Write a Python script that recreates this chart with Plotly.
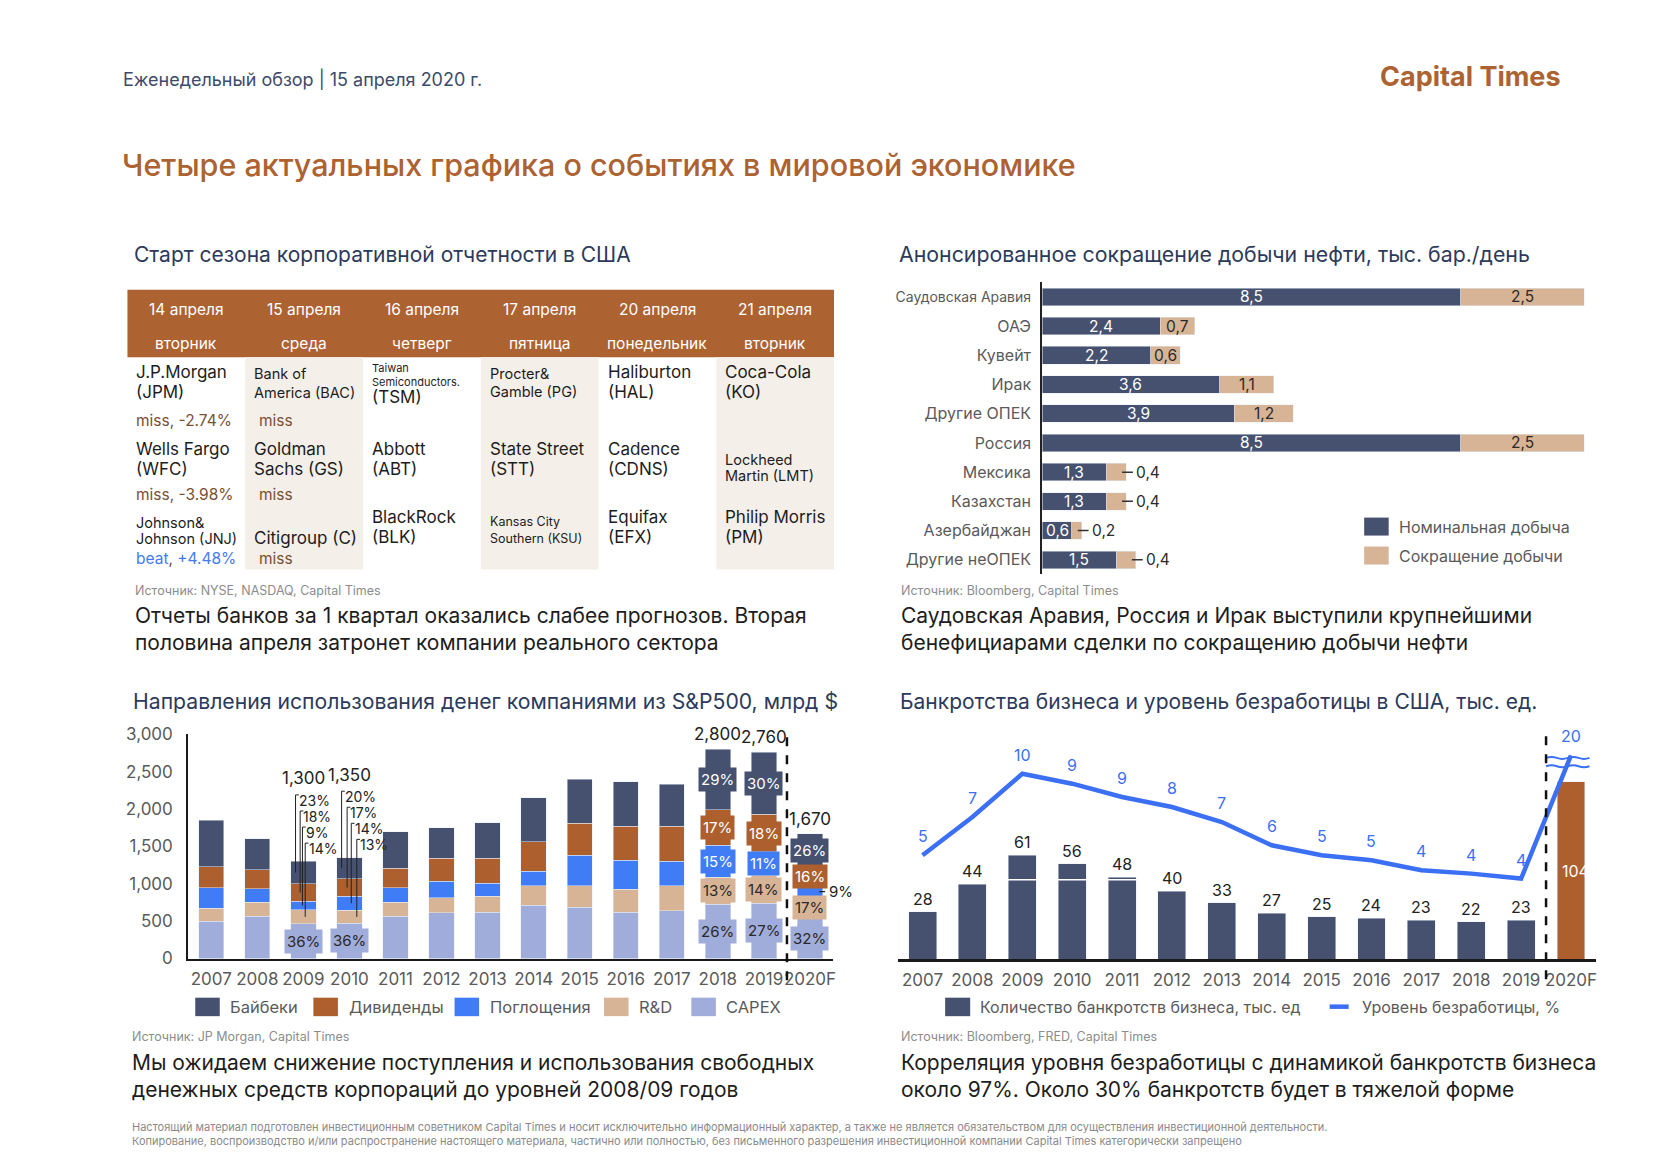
import plotly.graph_objects as go

W, H = 1680, 1162
FONT = "Inter"

NAVY = "#45516f"
BROWN = "#ad5f2d"
BLUE = "#3f7cf6"
TAN = "#d8b496"
PERI = "#a0acd9"
BEIGE = "#f4efe9"
HEAD = "#ad6232"
LINEBLUE = "#3b6ff4"
TITLE_NAVY = "#2c3a5c"
GREY = "#5a5a5a"
SRC = "#8c8c8c"
INK = "#1d1d1d"

# ---------------- DATA ----------------
# Table: reporting calendar
table_dates = ["14 апреля", "15 апреля", "16 апреля", "17 апреля", "20 апреля", "21 апреля"]
table_days = ["вторник", "среда", "четверг", "пятница", "понедельник", "вторник"]
table_cells = [
    [["J.P.Morgan", "(JPM)"], ["Wells Fargo", "(WFC)"], ["Johnson&", "Johnson (JNJ)"]],
    [["Bank of", "America (BAC)"], ["Goldman", "Sachs (GS)"], ["Citigroup (C)"]],
    [["Taiwan", "Semiconductors.", "(TSM)"], ["Abbott", "(ABT)"], ["BlackRock", "(BLK)"]],
    [["Procter&", "Gamble (PG)"], ["State Street", "(STT)"], ["Kansas City", "Southern (KSU)"]],
    [["Haliburton", "(HAL)"], ["Cadence", "(CDNS)"], ["Equifax", "(EFX)"]],
    [["Coca-Cola", "(KO)"], ["Lockheed", "Martin (LMT)"], ["Philip Morris", "(PM)"]],
]
table_results = [
    ["miss, -2.74%", "miss, -3.98%", "beat, +4.48%"],
    ["miss", "miss", "miss"],
    [], [], [], [],
]

# Oil output cuts, thousand barrels/day
oil_countries = ["Саудовская Аравия", "ОАЭ", "Кувейт", "Ирак", "Другие ОПЕК",
                 "Россия", "Мексика", "Казахстан", "Азербайджан", "Другие неОПЕК"]
oil_nominal = [8.5, 2.4, 2.2, 3.6, 3.9, 8.5, 1.3, 1.3, 0.6, 1.5]
oil_cut = [2.5, 0.7, 0.6, 1.1, 1.2, 2.5, 0.4, 0.4, 0.2, 0.4]

# S&P500 uses of cash, bn $
sp_years = ["2007", "2008", "2009", "2010", "2011", "2012", "2013",
            "2014", "2015", "2016", "2017", "2018", "2019", "2020F"]
sp_capex = [500, 565, 468, 470, 565, 610, 620, 710, 685, 620, 640, 725, 740, 535]
sp_rd = [175, 190, 182, 175, 185, 205, 215, 265, 290, 310, 335, 365, 375, 285]
sp_ma = [270, 180, 117, 190, 195, 220, 170, 195, 405, 385, 325, 425, 315, 150]
sp_div = [285, 255, 234, 230, 265, 305, 335, 395, 430, 455, 470, 475, 500, 265]
sp_buyback = [620, 410, 299, 285, 490, 410, 480, 585, 590, 595, 565, 810, 830, 435]
sp_labeled_years = ["2009", "2010", "2018", "2019", "2020F"]
sp_pct_buyback = [23, 20, 29, 30, 26]
sp_pct_div = [18, 17, 17, 18, 16]
sp_pct_ma = [9, 14, 15, 11, 9]
sp_pct_rd = [14, 13, 13, 14, 17]
sp_pct_capex = [36, 36, 26, 27, 32]

# Business bankruptcies (thousand) and unemployment (%)
bk_years = ["2007", "2008", "2009", "2010", "2011", "2012", "2013",
            "2014", "2015", "2016", "2017", "2018", "2019", "2020F"]
bk_bankruptcies = [28, 44, 61, 56, 48, 40, 33, 27, 25, 24, 23, 22, 23, 104]
bk_unemployment = [5.0, 7.3, 9.9, 9.3, 8.5, 7.9, 7.0, 5.6, 5.0, 4.7, 4.1, 3.9, 3.6, 20]

# ---------------- HELPERS ----------------
# page-pixel -> paper mapping (calibrated against the rendered page)
SX = 0.997
OY, SY = 9.0, 0.9836


def fx(x):
    return (x / SX) / W


def fy(y):
    return 1 - ((y - OY) / SY) / H


ann = []
shp = []


def txt(x, y, s, size, color, xanchor="left", weight=None, yanchor="middle"):
    f = dict(family=FONT, size=size, color=color)
    if weight:
        f["weight"] = weight
    ann.append(dict(x=fx(x), y=fy(y), xref="paper", yref="paper", text=s,
                    showarrow=False, xanchor=xanchor, yanchor=yanchor, font=f, align="left"))


def rect(x0, y0, x1, y1, color, layer="below"):
    shp.append(dict(type="rect", xref="paper", yref="paper", x0=fx(x0), x1=fx(x1),
                    y0=fy(y1), y1=fy(y0), fillcolor=color, line=dict(width=0), layer=layer))


def dom_x(a, b):
    return [fx(a), fx(b)]


def dom_y(top, bottom):
    return [fy(bottom), fy(top)]


def fmt_comma(v):
    return f"{v:.1f}".replace(".", ",")


fig = go.Figure()

# ---------------- HEADER ----------------
txt(121, 78, "Еженедельный обзор | 15 апреля 2020 г.", 18, "#3d4a6b")
txt(1561, 76, "Capital Times", 27, HEAD, xanchor="right", weight=700)
txt(120, 164, "Четыре актуальных графика о событиях в мировой экономике", 30.5, HEAD, weight=500)

# ---------------- PANEL 1: TABLE ----------------
txt(132, 254, "Старт сезона корпоративной отчетности в США", 21, TITLE_NAVY)
TL, TR = 127.3, 833.0
colw = (TR - TL) / 6
rect(TL, 289, TR, 356.5, HEAD)
for c in (1, 3, 5):
    rect(TL + c * colw, 356.5, TL + (c + 1) * colw, 569, BEIGE)
for i, (d, wd) in enumerate(zip(table_dates, table_days)):
    cx = TL + (i + 0.5) * colw
    txt(cx, 308.5, d, 15.5, "white", xanchor="center")
    txt(cx, 343, wd, 15.5, "white", xanchor="center")

cell_sizes = [
    [[17, 17], [17, 17], [14.5, 14.5]],
    [[14.5, 14.5], [17, 17], [17]],
    [[11, 11, 17], [17, 17], [17, 17]],
    [[14.5, 14.5], [17, 17], [12.5, 12.5]],
    [[17, 17], [17, 17], [17, 17]],
    [[17, 17], [14.5, 14.5], [17, 17]],
]
cell_ys = [
    [[371.7, 391.7], [448.3, 468.3], [521.7, 538.3]],
    [[372.7, 391.7], [448.3, 468.3], [537.3]],
    [[367.3, 381.7, 396], [448.3, 468.3], [516, 536]],
    [[372.7, 390.7], [448.3, 468.3], [521, 538.3]],
    [[371.7, 391.7], [448.3, 468.3], [516, 536]],
    [[371.7, 391.7], [459.3, 475], [516, 536]],
]
result_ys = [420, 494, 558]
result_indent = [7, 12, 7, 7, 7, 7]
for c, col in enumerate(table_cells):
    left = TL + c * colw + 7
    for s, lines in enumerate(col):
        for k, line in enumerate(lines):
            txt(left, cell_ys[c][s][k], line, cell_sizes[c][s][k], INK)
    for s, res in enumerate(table_results[c]):
        if res.startswith("beat"):
            word, val = res.split(", ")
            s_txt = f"<span style='color:{BLUE}'>{word}</span>, <span style='color:{BLUE}'>{val}</span>"
            txt(TL + c * colw + result_indent[c], result_ys[s], s_txt, 15.5, "#6b4a35")
        else:
            txt(TL + c * colw + result_indent[c], result_ys[s], res, 15.5, "#7b4f33")

txt(133, 590, "Источник: NYSE, NASDAQ, Capital Times", 12.5, SRC)
txt(133, 615, "Отчеты банков за 1 квартал оказались слабее прогнозов. Вторая", 21, INK)
txt(133, 642, "половина апреля затронет компании реального сектора", 21, INK)

# ---------------- PANEL 2: OIL ----------------
txt(896, 253, "Анонсированное сокращение добычи нефти, тыс. бар./день", 21.3, TITLE_NAVY)
fig.add_trace(go.Bar(y=oil_countries, x=oil_nominal, orientation="h", marker_color=NAVY,
                     width=0.6, xaxis="x", yaxis="y", showlegend=False, hoverinfo="skip"))
fig.add_trace(go.Bar(y=oil_countries, x=oil_cut, orientation="h", marker_color=TAN,
                     width=0.6, xaxis="x", yaxis="y", showlegend=False, hoverinfo="skip"))
for i, (nom, cut) in enumerate(zip(oil_nominal, oil_cut)):
    ann.append(dict(x=nom / 2, y=i, xref="x", yref="y", text=fmt_comma(nom), showarrow=False,
                    font=dict(family=FONT, size=15.5, color="white")))
    end = nom + cut
    if cut >= 0.5:
        ann.append(dict(x=nom + cut / 2, y=i, xref="x", yref="y", text=fmt_comma(cut), showarrow=False,
                        font=dict(family=FONT, size=15.5, color="#2a2a2a")))
    else:
        shp.append(dict(type="line", xref="x", yref="y", x0=end - 0.08, x1=end + 0.14, y0=i, y1=i,
                        line=dict(color="#333333", width=1.5), layer="above"))
        ann.append(dict(x=end + 0.16, y=i, xref="x", yref="y", text=fmt_comma(cut), showarrow=False,
                        xanchor="left", font=dict(family=FONT, size=15.5, color="#2a2a2a")))
oil_ticktext = [f"<span style='font-size:14px'>{c}</span>" if i == 0 else c
                for i, c in enumerate(oil_countries)]
rect(1362.5, 517, 1387, 535, NAVY)
txt(1395, 526, "Номинальная добыча", 16, GREY)
rect(1362.5, 546, 1387, 564, TAN)
txt(1395, 555, "Сокращение добычи", 16, GREY)
txt(898, 590, "Источник: Bloomberg, Capital Times", 12.5, SRC)
txt(898, 615, "Саудовская Аравия, Россия и Ирак выступили крупнейшими", 21, INK)
txt(898, 642, "бенефициарами сделки по сокращению добычи нефти", 21, INK)

# ---------------- PANEL 3: S&P500 ----------------
txt(131, 701, "Направления использования денег компаниями из S&P500, млрд $", 21.2, TITLE_NAVY)
sp_series = [("CAPEX", sp_capex, PERI), ("R&D", sp_rd, TAN), ("Поглощения", sp_ma, BLUE),
             ("Дивиденды", sp_div, BROWN), ("Байбеки", sp_buyback, NAVY)]
for name, vals, col in sp_series:
    fig.add_trace(go.Bar(x=sp_years, y=vals, name=name, marker_color=col, width=0.55,
                         xaxis="x2", yaxis="y2", showlegend=False, hoverinfo="skip"))

pct_lists = [sp_pct_buyback, sp_pct_div, sp_pct_ma, sp_pct_rd, sp_pct_capex]
seg_colors = [NAVY, BROWN, BLUE, TAN, PERI]
seg_font = ["white", "white", "white", "#2a2a2a", "#2a2a2a"]
leader_dx = {"2009": [-0.17, -0.07, -0.02, 0.04], "2010": [-0.17, -0.05, 0.04, 0.16]}
leader_dy = [815, 600, 385, 170]
for j, yr in enumerate(sp_labeled_years):
    i = sp_years.index(yr)
    segs = [sp_capex[i], sp_rd[i], sp_ma[i], sp_div[i], sp_buyback[i]]
    bounds = [0]
    for v in segs:
        bounds.append(bounds[-1] + v)
    centers_bottom_up = [(bounds[k] + bounds[k + 1]) / 2 for k in range(5)]
    centers = centers_bottom_up[::-1]  # buyback, div, ma, rd, capex
    total = bounds[-1]
    pcts = [lst[j] for lst in pct_lists]
    total_txt = f"{total:,}"
    if yr in leader_dx:
        ann.append(dict(x=i, y=total + 1110, xref="x2", yref="y2", text=total_txt, showarrow=False,
                        font=dict(family=FONT, size=17, color="#222222")))
        for k in range(4):
            lx = i + leader_dx[yr][k]
            ly = total + leader_dy[k]
            shp.append(dict(type="line", xref="x2", yref="y2", x0=lx, x1=lx, y0=ly + 75, y1=centers[k],
                            line=dict(color="#222222", width=1), layer="above"))
            shp.append(dict(type="line", xref="x2", yref="y2", x0=lx, x1=lx + 0.07, y0=ly + 75, y1=ly + 75,
                            line=dict(color="#222222", width=1), layer="above"))
            ann.append(dict(x=lx + 0.05, y=ly, xref="x2", yref="y2", text=f"{pcts[k]}%", showarrow=False,
                            xanchor="left", borderpad=0,
                            font=dict(family=FONT, size=14, color="#222222")))
        ann.append(dict(x=i, y=centers[4], xref="x2", yref="y2", text=f"{pcts[4]}%", showarrow=False,
                        bgcolor=PERI, borderpad=2, font=dict(family=FONT, size=15, color="#2a2a2a")))
    else:
        ann.append(dict(x=i, y=total + 200, xref="x2", yref="y2", text=total_txt, showarrow=False,
                        font=dict(family=FONT, size=17, color="#222222")))
        for k in range(5):
            if segs[::-1][k] < 200:
                shp.append(dict(type="line", xref="x2", yref="y2", x0=i + 0.2, x1=i + 0.33,
                                y0=centers[k], y1=centers[k], line=dict(color="#222222", width=1.2),
                                layer="above"))
                ann.append(dict(x=i + 0.36, y=centers[k], xref="x2", yref="y2", text=f"{pcts[k]}%",
                                showarrow=False, xanchor="left",
                                font=dict(family=FONT, size=15, color="#222222")))
            else:
                ann.append(dict(x=i, y=centers[k], xref="x2", yref="y2", text=f"{pcts[k]}%",
                                showarrow=False, bgcolor=seg_colors[k], borderpad=2,
                                font=dict(family=FONT, size=15, color=seg_font[k])))

# dashed separator before forecast
shp.append(dict(type="line", xref="x2", yref="paper", x0=len(sp_years) - 1.5, x1=len(sp_years) - 1.5,
                y0=fy(980), y1=fy(735), line=dict(color="#111111", width=2.5, dash="dash"),
                layer="above"))

sp_legend = [("Байбеки", NAVY, 195, 228), ("Дивиденды", BROWN, 313, 346.5),
             ("Поглощения", BLUE, 454, 487), ("R&D", TAN, 603.3, 636.5), ("CAPEX", PERI, 690.5, 723.5)]
for name, col, sx, tx in sp_legend:
    rect(sx, 997.5, sx + 24.5, 1016, col)
    txt(tx, 1006.5, name, 16.5, GREY)
txt(130, 1036, "Источник: JP Morgan, Capital Times", 12.5, SRC)
txt(130, 1062, "Мы ожидаем снижение поступления и использования свободных", 21, INK)
txt(130, 1089, "денежных средств корпораций до уровней 2008/09 годов", 21, INK)

# ---------------- PANEL 4: BANKRUPTCIES ----------------
txt(897, 701, "Банкротства бизнеса и уровень безработицы в США, тыс. ед.", 21, TITLE_NAVY)
bk_colors = [BROWN if y.endswith("F") else NAVY for y in bk_years]
fig.add_trace(go.Bar(x=bk_years, y=bk_bankruptcies, marker_color=bk_colors, width=0.56,
                     xaxis="x3", yaxis="y3", showlegend=False, hoverinfo="skip"))
UNEMP_CAP = 11.0  # broken-axis display ceiling
unemp_display = [min(v, UNEMP_CAP) for v in bk_unemployment]
fig.add_trace(go.Scatter(x=bk_years, y=unemp_display, mode="lines",
                         line=dict(color=LINEBLUE, width=4.5), xaxis="x3", yaxis="y4",
                         showlegend=False, hoverinfo="skip"))
for i, (b, u, yr) in enumerate(zip(bk_bankruptcies, bk_unemployment, bk_years)):
    if yr.endswith("F"):
        ann.append(dict(x=i + 0.1, y=b / 2, xref="x3", yref="y3", text=str(b), showarrow=False,
                        font=dict(family=FONT, size=16, color="white")))
    else:
        ann.append(dict(x=i, y=b, xref="x3", yref="y3", text=str(b), showarrow=False, yshift=13,
                        font=dict(family=FONT, size=16, color="#222222")))
    ann.append(dict(x=i, y=min(u, UNEMP_CAP), xref="x3", yref="y4", text=str(int(u + 0.5)),
                    showarrow=False, yshift=19, font=dict(family=FONT, size=16, color=LINEBLUE)))

# white notch line across 2009-2011 bars
shp.append(dict(type="line", xref="x3", yref="y3", x0=1.6, x1=4.4, y0=46.7, y1=46.7,
                line=dict(color="white", width=1.5), layer="above"))
# axis break marks
n_last = len(bk_years) - 1
for yb in (UNEMP_CAP - 0.15, UNEMP_CAP - 0.65):
    x0 = n_last - 0.5
    path = f"M {x0},{yb}"
    step = 0.2175
    for k in range(4):
        xa = x0 + step * k
        amp = 0.12 if k % 2 == 0 else -0.12
        path += f" Q {xa + step / 2},{yb + amp} {xa + step},{yb}"
    shp.append(dict(type="path", xref="x3", yref="y4", path=path,
                    line=dict(color=LINEBLUE, width=2), layer="above"))
shp.append(dict(type="line", xref="x3", yref="paper", x0=n_last - 0.5, x1=n_last - 0.5,
                y0=fy(979), y1=fy(735), line=dict(color="#111111", width=2.5, dash="dash"),
                layer="above"))

rect(944, 997.5, 969, 1016, NAVY)
txt(977, 1006.5, "Количество банкротств бизнеса, тыс. ед", 16, GREY)
shp.append(dict(type="line", xref="paper", yref="paper", x0=fx(1328), x1=fx(1347),
                y0=fy(1006.5), y1=fy(1006.5), line=dict(color=LINEBLUE, width=4.5)))
txt(1358, 1006.5, "Уровень безработицы, %", 16, GREY)
txt(898, 1036, "Источник: Bloomberg, FRED, Capital Times", 12.5, SRC)
txt(898, 1062, "Корреляция уровня безработицы с динамикой банкротств бизнеса", 21, INK)
txt(898, 1089, "около 97%. Около 30% банкротств будет в тяжелой форме", 21, INK)

# ---------------- FOOTER ----------------
txt(130, 1127, "Настоящий материал подготовлен инвестиционным советником Capital Times и носит исключительно "
               "информационный характер, а также не является обязательством для осуществления инвестиционной деятельности.",
    11, "#8a8a8a")
txt(130, 1141, "Копирование, воспроизводство и/или распространение настоящего материала, частично или полностью, "
               "без письменного разрешения инвестиционной компании Capital Times категорически запрещено",
    11, "#8a8a8a")

# ---------------- LAYOUT ----------------
tickf = dict(family=FONT, size=17, color=GREY)
fig.update_layout(
    width=W, height=H, margin=dict(l=0, r=0, t=0, b=0),
    paper_bgcolor="white", plot_bgcolor="rgba(0,0,0,0)",
    barmode="stack", showlegend=False,
    font=dict(family=FONT, color=INK),
    uniformtext=dict(minsize=10, mode="show"),
    xaxis=dict(domain=dom_x(1041, 1592), range=[0, 11.2], visible=False, anchor="y", fixedrange=True),
    yaxis=dict(domain=dom_y(281.4, 573.9), type="category", categoryorder="array",
               categoryarray=oil_countries, range=[len(oil_countries) - 0.5, -0.5], anchor="x",
               showline=True, linecolor="#222222", linewidth=2, ticks="", showgrid=False,
               tickmode="array", tickvals=oil_countries, ticktext=oil_ticktext,
               tickfont=dict(family=FONT, size=16, color=GREY), ticklabelstandoff=6),
    xaxis2=dict(domain=dom_x(188, 832), type="category", range=[-0.5, len(sp_years) - 0.5],
                anchor="y2", showline=True, linecolor="#1a1a1a", linewidth=2.5, ticks="",
                tickangle=0, tickfont=tickf, showgrid=False, tickmode="array", tickvals=sp_years,
                ticklabelstandoff=4),
    yaxis2=dict(domain=dom_y(734, 958.3), range=[0, 3000], anchor="x2", showline=True,
                linecolor="#1a1a1a", linewidth=2, ticks="", showgrid=False, zeroline=False,
                tickvals=[0, 500, 1000, 1500, 2000, 2500, 3000], tickformat=",", tickfont=tickf,
                ticklabelstandoff=10),
    xaxis3=dict(domain=dom_x(896.5, 1594), type="category", range=[-0.5, len(bk_years) - 0.5],
                anchor="y3", showline=True, linecolor="#1a1a1a", linewidth=2.5, ticks="",
                tickangle=0, tickfont=tickf, showgrid=False, tickmode="array", tickvals=bk_years,
                ticklabelstandoff=4),
    yaxis3=dict(domain=dom_y(732, 959), range=[0, 133.1], visible=False, anchor="x3"),
    yaxis4=dict(range=[-1.24, 12.38], overlaying="y3", visible=False, anchor="x3"),
    annotations=ann, shapes=shp,
)

fig.write_html("out.html", config={"displayModeBar": False, "staticPlot": True},
               post_script="document.body.style.margin='0';document.body.style.overflow='hidden';")
